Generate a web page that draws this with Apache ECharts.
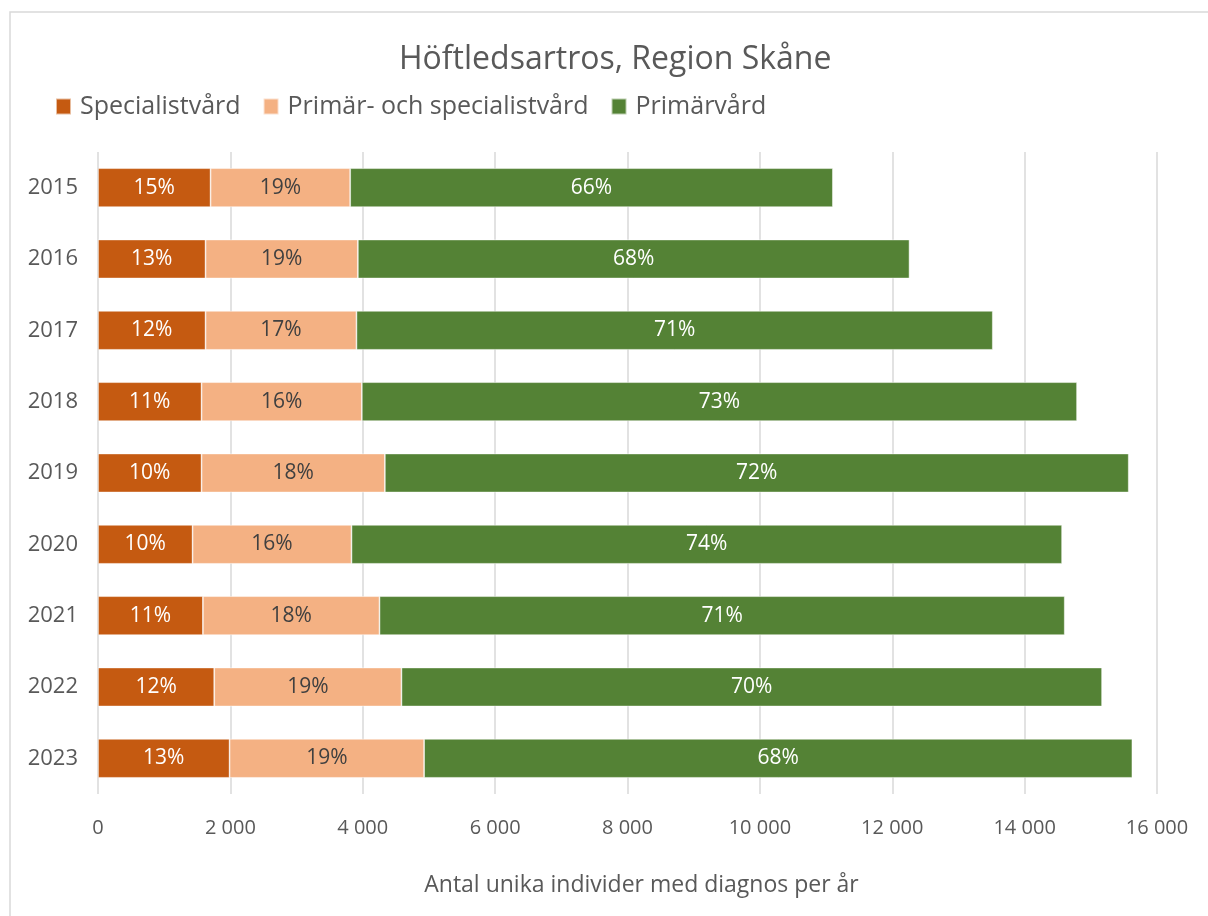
<!DOCTYPE html>
<html>
<head>
<meta charset="utf-8">
<script src="https://cdn.jsdelivr.net/npm/echarts@6/dist/echarts.min.js"></script>
<style>
html,body{margin:0;padding:0;background:#fff;}
#chart{width:1208px;height:916px;}
</style>
</head>
<body>
<div id="chart"></div>
<script>
const years = ['2015','2016','2017','2018','2019','2020','2021','2022','2023'];
const specialist = [1701, 1625, 1625, 1565, 1565, 1429, 1585, 1756, 1988];
const primarSpecialist = [2109, 2301, 2280, 2421, 2769, 2401, 2668, 2829, 2939];
const primar = [7293, 8335, 9614, 10806, 11239, 10736, 10353, 10585, 10701];
const pctSpecialist = ['15%','13%','12%','11%','10%','10%','11%','12%','13%'];
const pctPrimarSpecialist = ['19%','19%','17%','16%','18%','16%','18%','19%','19%'];
const pctPrimar = ['66%','68%','71%','73%','72%','74%','71%','70%','68%'];
const xTicks = [0, 2000, 4000, 6000, 8000, 10000, 12000, 14000, 16000];

const FONT = 'Open Sans';
const chart = echarts.init(document.getElementById('chart'), null, {renderer:'canvas'});

function fmtTick(v){
  return String(v).replace(/\B(?=(\d{3})+(?!\d))/g, ' ');
}
function series(name, data, pct, color, labelColor){
  return {
    name, type:'bar', stack:'total', data, barWidth:39,
    itemStyle:{color, borderColor:'rgba(255,255,255,0.6)', borderWidth:0.8},
    label:{show:true, position:'inside', color:labelColor, fontFamily:FONT, fontSize:21,
      formatter:(p)=>pct[p.dataIndex]},
    emphasis:{disabled:true}
  };
}

chart.setOption({
  animation:false,
  backgroundColor:'#fff',
  graphic:[{type:'rect', shape:{x:10, y:12, width:1220, height:930}, style:{fill:'none', stroke:'#d9d9d9', lineWidth:1.5}, silent:true, z:-1}],
  title:{text:'Höftledsartros, Region Skåne', left:394, top:39,
    textStyle:{fontFamily:FONT, fontSize:32, fontWeight:'normal', color:'#595959'}},
  legend:{left:50, top:89, icon:'rect', itemWidth:15, itemHeight:16, itemGap:22,
    textStyle:{fontFamily:FONT, fontSize:25, color:'#595959', padding:[0,0,0,4]},
    data:['Specialistvård','Primär- och specialistvård','Primärvård']},
  grid:{left:98, right:51, top:152, bottom:122, containLabel:false},
  xAxis:{type:'value', min:0, max:16000, interval:2000,
    axisLine:{show:false}, axisTick:{show:false},
    splitLine:{show:true, lineStyle:{color:'#d9d9d9', width:1.5}},
    axisLabel:{fontFamily:FONT, fontSize:20, color:'#595959', margin:24, formatter:fmtTick},
    name:'Antal unika individer med diagnos per år', nameLocation:'middle', nameGap:80,
    nameTextStyle:{fontFamily:FONT, fontSize:23, color:'#595959', padding:[0,0,0,28]}},
  yAxis:{type:'category', data:years, inverse:true,
    axisLine:{show:false}, axisTick:{show:false},
    axisLabel:{fontFamily:FONT, fontSize:22, color:'#595959', margin:20}},
  series:[
    series('Specialistvård', specialist, pctSpecialist, '#C55A11', '#ffffff'),
    series('Primär- och specialistvård', primarSpecialist, pctPrimarSpecialist, '#F4B183', '#404040'),
    series('Primärvård', primar, pctPrimar, '#548235', '#ffffff')
  ]
});
</script>
</body>
</html>
